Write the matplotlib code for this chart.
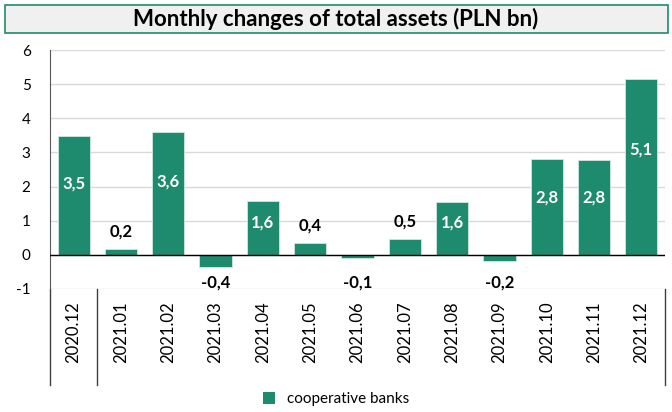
import matplotlib.pyplot as plt
from matplotlib.patches import Rectangle
import matplotlib.transforms as mtransforms

months = ["2020.12", "2021.01", "2021.02", "2021.03", "2021.04", "2021.05", "2021.06",
          "2021.07", "2021.08", "2021.09", "2021.10", "2021.11", "2021.12"]
changes = [3.48, 0.17, 3.60, -0.37, 1.58, 0.36, -0.08, 0.47, 1.56, -0.17, 2.82, 2.78, 5.14]
series_name = "cooperative banks"
title = "Monthly changes of total assets (PLN bn)"

green = "#1e8b6e"
plt.rcParams['font.family'] = ['Lato', 'DejaVu Sans']

fig = plt.figure(figsize=(6.72, 4.12), dpi=100)
ax = fig.add_axes([50 / 672, 1 - 289 / 412, 615 / 672, 239 / 412])

x = list(range(len(months)))
ax.bar(x, changes, width=0.68, color=green, edgecolor="#cfe8df", linewidth=0.6, zorder=3)

ax.set_xlim(-0.5, len(months) - 0.5)
ax.set_ylim(-1, 6)
ax.set_yticks(range(-1, 7))
ax.set_yticklabels([str(t) for t in range(-1, 7)], fontsize=11)
ax.tick_params(axis='y', length=0, pad=14)
ax.yaxis.grid(True, color="#d9d9d9", linewidth=1, zorder=0)
ax.axhline(0, color="black", linewidth=1, zorder=4)

ax.set_xticks(x)
ax.set_xticklabels(months, rotation=90, fontsize=12)
ax.tick_params(axis='x', length=0, pad=9)

for s in ["top", "right", "bottom"]:
    ax.spines[s].set_visible(False)
ax.spines["left"].set_color("#595959")

# label values
for xi, v in zip(x, changes):
    txt = f"{v:.1f}".replace(".", ",")
    if v >= 1:
        ax.text(xi, v * 0.6, txt, ha="center", va="center", color="white",
                fontsize=12, fontweight="bold", zorder=5)
    elif v >= 0:
        ax.text(xi, v + 0.5, txt, ha="center", va="center", color="black",
                fontsize=12, fontweight="bold", zorder=5)
    else:
        ax.text(xi, -0.82, txt, ha="center", va="center", color="black",
                fontsize=12, fontweight="bold", zorder=5)

# category group separators below the axis
trans = mtransforms.blended_transform_factory(ax.transData, ax.transAxes)
for xs in [-0.5, 0.5, len(months) - 0.5]:
    ax.plot([xs, xs], [0, -0.40], color="#404040", linewidth=1, transform=trans, clip_on=False)

# title box
fig.patches.append(Rectangle((5 / 672, 1 - 33 / 412), 663 / 672, 28 / 412,
                             transform=fig.transFigure, facecolor="#f0f0f0",
                             edgecolor=green, linewidth=1.2))
fig.text(0.5, 1 - 19 / 412, title, ha="center", va="center", fontsize=16, fontweight="bold")

handle = Rectangle((0, 0), 1, 1, facecolor=green)
fig.legend([handle], [series_name], loc="center", bbox_to_anchor=(0.5, 1 - 399 / 412),
           frameon=False, fontsize=11, handlelength=0.8, handleheight=0.8, handletextpad=0.8)

fig.savefig("out.png", dpi=100)
